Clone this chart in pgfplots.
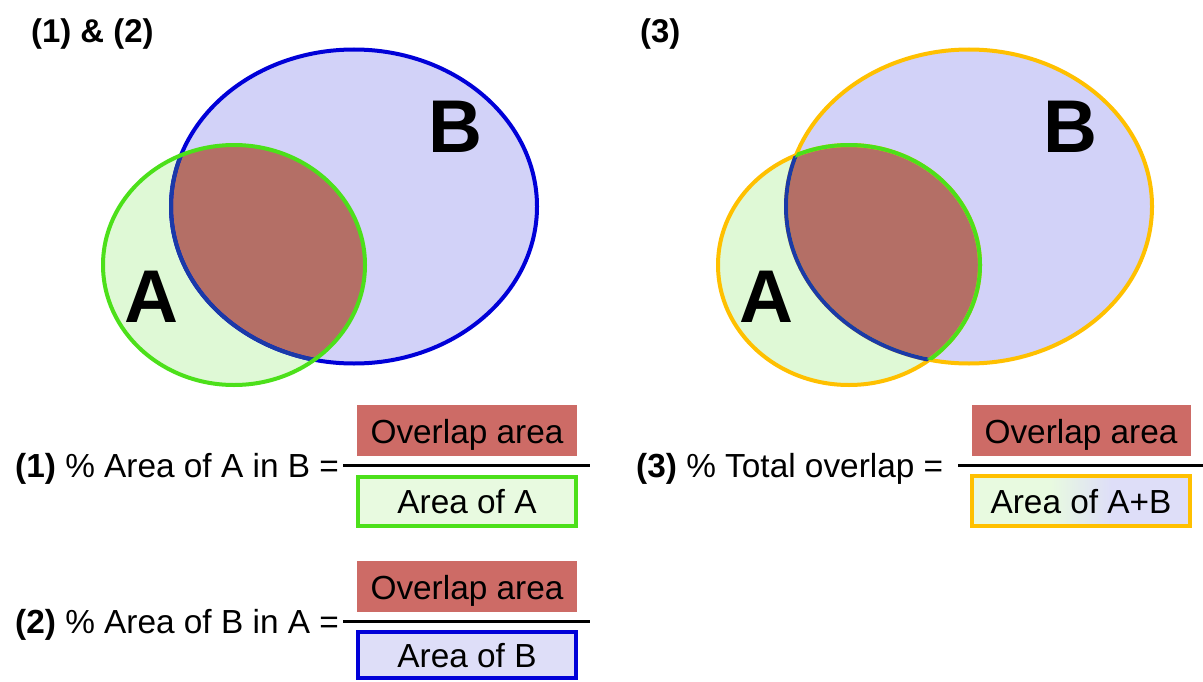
\documentclass[border=0pt]{standalone}
\usepackage{pgfplots}
\pgfplotsset{compat=1.18}
\usepackage{fontspec}
\setmainfont{Liberation Sans}
\definecolor{gfill}{HTML}{DFF9D6}
\definecolor{gline}{HTML}{4CE01A}
\definecolor{bfill}{HTML}{D2D2F8}
\definecolor{bline}{HTML}{0000D8}
\definecolor{bdark}{HTML}{1A3AA8}
\definecolor{ovl}{HTML}{B46F66}
\definecolor{redbox}{HTML}{CD6B66}
\definecolor{gbox}{HTML}{E8FAE0}
\definecolor{bbox}{HTML}{DEDEF8}
\definecolor{orng}{HTML}{FFC000}
\pgfdeclarehorizontalshading{abshade}{100bp}{color(0bp)=(gbox); color(43bp)=(gbox); color(57bp)=(bbox); color(100bp)=(bbox)}
% ellipse geometry (pixels): centre x, centre y, x radius, y radius
\def\Ax{234}\def\Ay{265}\def\Arx{131bp}\def\Ary{120bp}
\def\Bx{354}\def\By{206.5}\def\Brx{183bp}\def\Bry{157bp}
\def\Off{615}
\tikzset{big/.style={font=\bfseries\fontsize{75}{80}\selectfont, anchor=base},
  txt/.style={font=\fontsize{33.5}{38}\selectfont},
  lw/.style={line width=4bp}}
\begin{document}
\begin{tikzpicture}
\begin{axis}[scale only axis, width=1203bp, height=682bp,
  xmin=0, xmax=1203, ymin=0, ymax=682, y dir=reverse, hide axis]
\path (axis cs:0,0) rectangle (axis cs:1203,682);
% ---------- left panel ----------
\fill[gfill] (axis cs:\Ax,\Ay) ellipse [x radius=\Arx, y radius=\Ary];
\fill[bfill] (axis cs:\Bx,\By) ellipse [x radius=\Brx, y radius=\Bry];
\begin{scope}
\clip (axis cs:\Ax,\Ay) ellipse [x radius=\Arx, y radius=\Ary];
\fill[ovl] (axis cs:\Bx,\By) ellipse [x radius=\Brx, y radius=\Bry];
\end{scope}
\draw[bline, lw] (axis cs:\Bx,\By) ellipse [x radius=\Brx, y radius=\Bry];
\begin{scope}
\clip (axis cs:\Ax,\Ay) ellipse [x radius=\Arx, y radius=\Ary];
\draw[bdark, lw] (axis cs:\Bx,\By) ellipse [x radius=\Brx, y radius=\Bry];
\end{scope}
\draw[gline, lw] (axis cs:\Ax,\Ay) ellipse [x radius=\Arx, y radius=\Ary];
\node[big] at (axis cs:151,322) {A};
\node[big] at (axis cs:455,152) {B};
\node[font=\bfseries\fontsize{33}{38}\selectfont, anchor=base west, inner sep=0pt] at (axis cs:31,43) {(1) \& (2)};
% ---------- right panel ----------
\fill[gfill] (axis cs:\Ax+\Off,\Ay) ellipse [x radius=\Arx, y radius=\Ary];
\fill[bfill] (axis cs:\Bx+\Off,\By) ellipse [x radius=\Brx, y radius=\Bry];
\begin{scope}
\clip (axis cs:\Ax+\Off,\Ay) ellipse [x radius=\Arx, y radius=\Ary];
\fill[ovl] (axis cs:\Bx+\Off,\By) ellipse [x radius=\Brx, y radius=\Bry];
\end{scope}
\draw[orng, lw] (axis cs:\Bx+\Off,\By) ellipse [x radius=\Brx, y radius=\Bry];
\draw[orng, lw] (axis cs:\Ax+\Off,\Ay) ellipse [x radius=\Arx, y radius=\Ary];
\begin{scope}
\clip (axis cs:\Ax+\Off,\Ay) ellipse [x radius=\Arx, y radius=\Ary];
\draw[bdark, lw] (axis cs:\Bx+\Off,\By) ellipse [x radius=\Brx, y radius=\Bry];
\end{scope}
\begin{scope}
\clip (axis cs:\Bx+\Off,\By) ellipse [x radius=\Brx, y radius=\Bry];
\draw[gline, lw] (axis cs:\Ax+\Off,\Ay) ellipse [x radius=\Arx, y radius=\Ary];
\end{scope}
\node[big] at (axis cs:766,322) {A};
\node[big] at (axis cs:1070,152) {B};
\node[font=\bfseries\fontsize{33}{38}\selectfont, anchor=base west, inner sep=0pt] at (axis cs:640,43) {(3)};
% ---------- formula (1) ----------
\node[txt, anchor=base west, inner sep=0pt] at (axis cs:15,477) {\textbf{(1)} \% Area of A in B =};
\fill[redbox] (axis cs:357,405) rectangle (axis cs:577,456);
\node[txt, anchor=base] at (axis cs:467,443) {Overlap area};
\draw[black, line width=3bp] (axis cs:343,465) -- (axis cs:590,465);
\filldraw[fill=gbox, draw=gline, lw] (axis cs:358,477) rectangle (axis cs:576,526);
\node[txt, anchor=base] at (axis cs:467,513) {Area of A};
% ---------- formula (2) ----------
\node[txt, anchor=base west, inner sep=0pt] at (axis cs:15,633) {\textbf{(2)} \% Area of B in A =};
\fill[redbox] (axis cs:357,561) rectangle (axis cs:577,612);
\node[txt, anchor=base] at (axis cs:467,599) {Overlap area};
\draw[black, line width=3bp] (axis cs:343,621) -- (axis cs:590,621);
\filldraw[fill=bbox, draw=bline, lw] (axis cs:358,632) rectangle (axis cs:576,678);
\node[txt, anchor=base] at (axis cs:467,667) {Area of B};
% ---------- formula (3) ----------
\node[txt, anchor=base west, inner sep=0pt] at (axis cs:636,477) {\textbf{(3)} \% Total overlap =};
\fill[redbox] (axis cs:972,405) rectangle (axis cs:1191,456);
\node[txt, anchor=base] at (axis cs:1081,443) {Overlap area};
\draw[black, line width=3bp] (axis cs:958,465) -- (axis cs:1203,465);
\path[shading=abshade] (axis cs:972,476) rectangle (axis cs:1190,526);
\draw[orng, lw] (axis cs:972,476) rectangle (axis cs:1190,526);
\node[txt, anchor=base] at (axis cs:1081,513) {Area of A+B};
\end{axis}
\end{tikzpicture}
\end{document}
